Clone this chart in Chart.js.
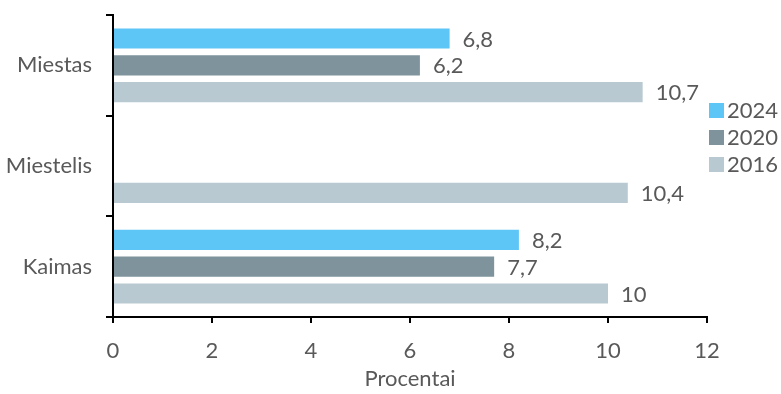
<!DOCTYPE html>
<html>
<head>
<meta charset="utf-8">
<script src="https://cdn.jsdelivr.net/npm/chart.js@4"></script>
<style>
  html, body { margin: 0; padding: 0; background: #fff; }
</style>
</head>
<body>
<canvas id="chart" width="781" height="394"></canvas>
<script>
// chart data
const categories = ['Miestas', 'Miestelis', 'Kaimas'];
const seriesNames = ['2024', '2020', '2016'];
const values2024 = [6.8, null, 8.2];
const values2020 = [6.2, null, 7.7];
const values2016 = [10.7, 10.4, 10];
const xTicks = [0, 2, 4, 6, 8, 10, 12];

const colors = ['#5EC5F7', '#7E939C', '#B9C9D2'];
const textColor = '#595959';
const fontFamily = 'Lato, "Liberation Sans", sans-serif';
const fontSize = 22;

function fmt(v) {
    return String(v).replace('.', ',');
}

// value labels to the right of each bar
const barLabels = {
    id: 'barLabels',
    afterDatasetsDraw(chart) {
        const ctx = chart.ctx;
        ctx.save();
        ctx.font = fontSize + 'px ' + fontFamily;
        ctx.fillStyle = textColor;
        ctx.textAlign = 'left';
        ctx.textBaseline = 'middle';
        chart.data.datasets.forEach((ds, i) => {
            const meta = chart.getDatasetMeta(i);
            meta.data.forEach((bar, j) => {
                const v = ds.data[j];
                if (v === null || v === undefined) return;
                ctx.fillText(fmt(v), bar.x + 13, bar.y + 1);
            });
        });
        ctx.restore();
    }
};

// legend on the right, drawn by hand to match the placement
const sideLegend = {
    id: 'sideLegend',
    afterDraw(chart) {
        const ctx = chart.ctx;
        ctx.save();
        ctx.font = fontSize + 'px ' + fontFamily;
        ctx.textBaseline = 'middle';
        ctx.textAlign = 'left';
        seriesNames.forEach((name, i) => {
            const y = 110 + i * 27;
            ctx.fillStyle = colors[i];
            ctx.fillRect(709, y - 7, 15, 15);
            ctx.fillStyle = textColor;
            ctx.fillText(name, 727, y + 1);
        });
        ctx.restore();
    }
};

new Chart(document.getElementById('chart'), {
    type: 'bar',
    data: {
        labels: categories,
        datasets: [
            { label: seriesNames[0], data: values2024, backgroundColor: colors[0] },
            { label: seriesNames[1], data: values2020, backgroundColor: colors[1] },
            { label: seriesNames[2], data: values2016, backgroundColor: colors[2] }
        ]
    },
    plugins: [barLabels, sideLegend],
    options: {
        indexAxis: 'y',
        responsive: false,
        animation: false,
        layout: { padding: { top: 15, right: 74, left: 0, bottom: 0 } },
        datasets: {
            bar: { categoryPercentage: 0.8, barPercentage: 0.75 }
        },
        scales: {
            x: {
                min: 0,
                max: 12,
                afterBuildTicks: (axis) => { axis.ticks = xTicks.map(v => ({ value: v })); },
                afterFit: (axis) => { axis.height = 77; },
                border: { color: '#000', width: 2 },
                grid: { drawOnChartArea: false, color: '#000', lineWidth: 2, tickLength: 6 },
                ticks: { color: textColor, font: { family: fontFamily, size: fontSize }, padding: 15 },
                title: {
                    display: true,
                    text: 'Procentai',
                    color: textColor,
                    font: { family: fontFamily, size: fontSize },
                    padding: { top: 2, bottom: 2 }
                }
            },
            y: {
                afterFit: (axis) => {
                    axis.width = 113;
                    axis.paddingTop = 0;
                    axis.paddingBottom = 0;
                },
                border: { color: '#000', width: 2 },
                grid: { offset: true, drawOnChartArea: false, color: '#000', lineWidth: 2, tickLength: 7 },
                ticks: { color: textColor, font: { family: fontFamily, size: fontSize }, padding: 14 }
            }
        },
        plugins: {
            legend: { display: false },
            tooltip: { enabled: false }
        }
    }
});
</script>
</body>
</html>
